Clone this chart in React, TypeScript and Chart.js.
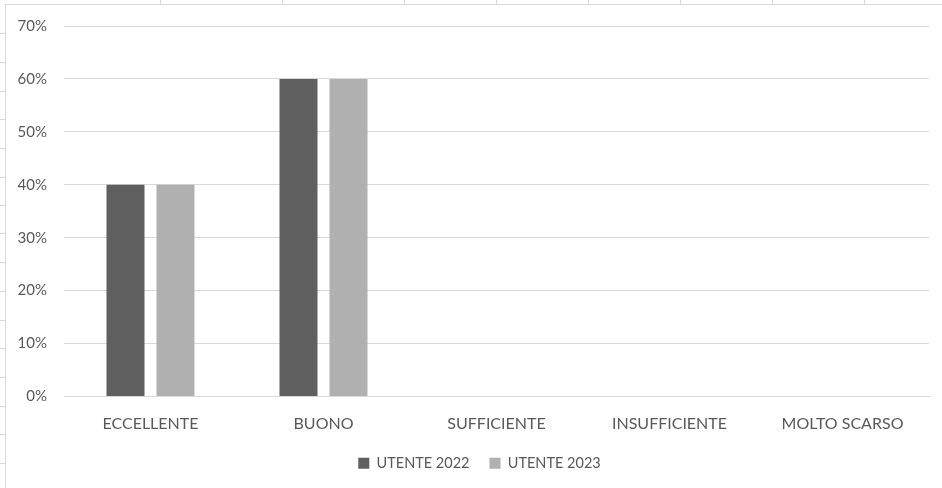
import React, { useEffect, useRef } from "react";
import { Chart, registerables } from "chart.js";

Chart.register(...registerables);

const categories = ["ECCELLENTE", "BUONO", "SUFFICIENTE", "INSUFFICIENTE", "MOLTO SCARSO"];
const utente2022 = [0.4, 0.6, 0, 0, 0];
const utente2023 = [0.4, 0.6, 0, 0, 0];
const seriesNames = ["UTENTE 2022", "UTENTE 2023"];

const sheetColumnLines = [160, 282, 404, 496, 588, 680, 772, 864];
const sheetRowLines = [33, 62, 91, 119, 148, 177, 205, 233, 262, 291, 320, 348, 377, 406, 434, 463];

const FONT = "Lato, 'Open Sans', sans-serif";
const TEXT = "#595959";
const GRID = "#d9d9d9";
const LEGEND_SHIFT = 10;

const shiftLegend = {
  id: "shiftLegend",
  afterLayout(chart: any) {
    const l = chart.legend;
    if (l) {
      l.left += LEGEND_SHIFT;
      l.right += LEGEND_SHIFT;
    }
  },
};

export default function App() {
  const ref = useRef<HTMLCanvasElement | null>(null);

  useEffect(() => {
    if (!ref.current) return;
    const chart = new Chart(ref.current, {
      type: "bar",
      data: {
        labels: categories,
        datasets: [
          {
            label: seriesNames[0],
            data: utente2022,
            backgroundColor: "#5f5f5f",
            barPercentage: 0.76,
            categoryPercentage: 0.578,
          },
          {
            label: seriesNames[1],
            data: utente2023,
            backgroundColor: "#b0b0b0",
            barPercentage: 0.76,
            categoryPercentage: 0.578,
          },
        ],
      },
      plugins: [shiftLegend],
      options: {
        animation: false,
        responsive: false,
        maintainAspectRatio: false,
        layout: { padding: { left: 10, right: 13, top: 19, bottom: 7.5 } },
        plugins: {
          tooltip: { enabled: false },
          legend: {
            position: "bottom",
            labels: {
              boxWidth: 11,
              boxHeight: 11,
              color: TEXT,
              font: { family: FONT, size: 14.5 },
              padding: 20,
            },
          },
        },
        scales: {
          x: {
            grid: { display: false, drawTicks: false },
            border: { display: true, color: GRID },
            ticks: {
              color: TEXT,
              font: { family: FONT, size: 16 },
              padding: 18,
              maxRotation: 0,
            },
            afterFit: (s: any) => {
              s.height = 39.5;
            },
          },
          y: {
            min: 0,
            max: 0.7,
            grid: { color: GRID, drawTicks: false },
            border: { display: false },
            ticks: {
              stepSize: 0.1,
              color: TEXT,
              font: { family: FONT, size: 15 },
              padding: 17,
              callback: (v: any) => Math.round(Number(v) * 100) + "%",
            },
            afterFit: (s: any) => {
              s.width = 54;
            },
          },
        },
      },
    });
    return () => chart.destroy();
  }, []);

  return (
    <div style={{ position: "fixed", left: 0, top: 0, width: 942, height: 488, background: "#fff", overflow: "hidden" }}>
      {sheetColumnLines.map((x, i) => (
        <div key={"c" + i} style={{ position: "absolute", left: x, top: 0, width: 1, height: 4, background: GRID }} />
      ))}
      {sheetRowLines.map((y, i) => (
        <div key={"r" + i} style={{ position: "absolute", left: 0, top: y, width: 5, height: 1, background: GRID }} />
      ))}
      <div style={{ position: "absolute", left: 5, top: 4, width: 940, height: 490, border: "1px solid " + GRID, boxSizing: "border-box" }} />
      <canvas ref={ref} width={942} height={488} style={{ position: "absolute", left: 0, top: 0 }} />
    </div>
  );
}
